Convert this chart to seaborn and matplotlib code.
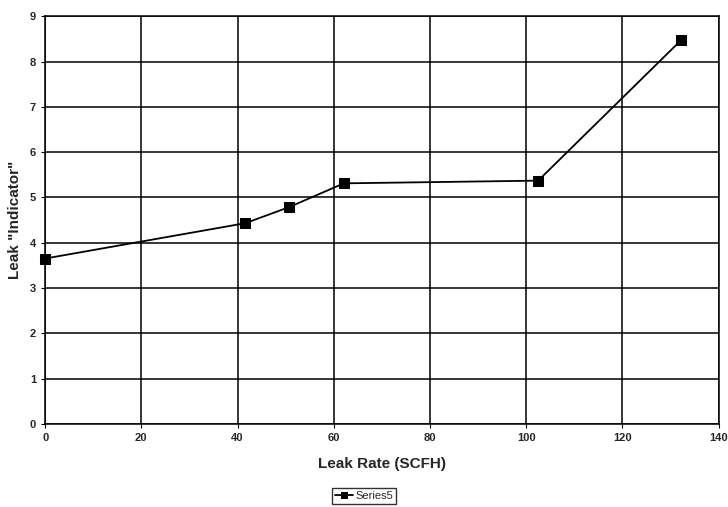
import matplotlib
matplotlib.use("Agg")
import matplotlib.pyplot as plt
import seaborn as sns
import pandas as pd

# values
leak_rate = [0, 41.6, 50.6, 62.1, 102.5, 132.3]
indicator = [3.65, 4.43, 4.78, 5.31, 5.37, 8.48]
series_name = "Series5"

df = pd.DataFrame({"rate": leak_rate, "ind": indicator, "series": series_name})

sns.set_style("white")
plt.rcParams["font.family"] = ["Liberation Sans", "DejaVu Sans"]

fig = plt.figure(figsize=(7.28, 5.07), dpi=100)
ax = fig.add_axes([0.062, 0.164, 0.925, 0.804])

sns.lineplot(data=df, x="rate", y="ind", hue="series", palette=["black"],
             marker="s", markersize=6.5, linewidth=1.3, markeredgecolor="black",
             ax=ax, legend=True, clip_on=False, zorder=5)

ax.set_xlim(0, 140)
ax.set_ylim(0, 9)
ax.set_xticks(range(0, 141, 20))
ax.set_yticks(range(0, 10))
ax.grid(True, color="black", linewidth=1.1)
ax.set_axisbelow(True)
for s in ax.spines.values():
    s.set_color("black")
    s.set_linewidth(1.1)
ax.tick_params(axis="both", labelsize=8, length=3, color="black", direction="out",
               left=True, bottom=True)
for lab in ax.get_xticklabels() + ax.get_yticklabels():
    lab.set_fontweight("bold")

ax.set_xlabel("Leak Rate (SCFH)", fontsize=11, fontweight="bold", labelpad=10)
ax.set_ylabel('Leak "Indicator"', fontsize=11, fontweight="bold", labelpad=6)

handles, labels = ax.get_legend_handles_labels()
ax.legend_.remove()
for h in handles:
    h.set_markersize(5)
fig.legend(handles, labels, loc="center", bbox_to_anchor=(0.5, 0.022),
           frameon=True, fancybox=False, edgecolor="black", fontsize=8,
           handlelength=1.6, borderpad=0.3, handletextpad=0.2)

fig.savefig("out.png", dpi=100)
